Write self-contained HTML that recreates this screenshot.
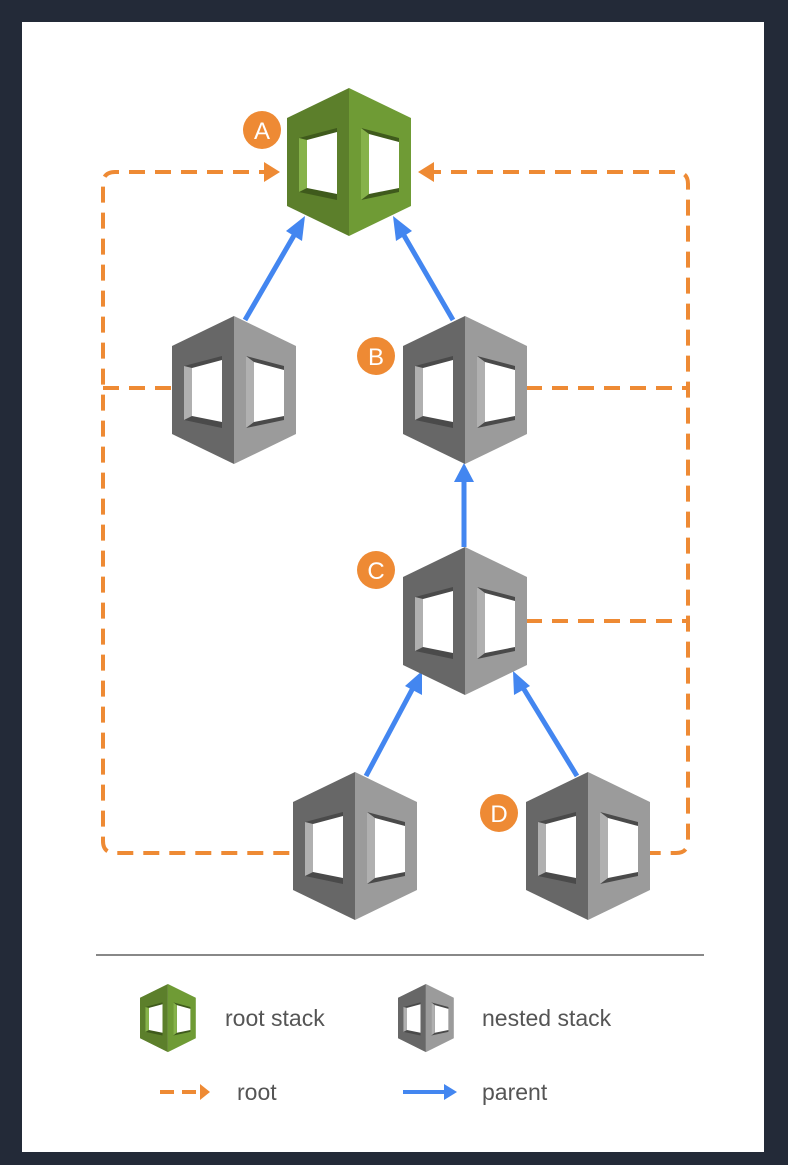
<!DOCTYPE html>
<html><head><meta charset="utf-8"><style>
html,body{margin:0;padding:0;background:#232a38;}
svg{display:block}
text{font-family:"Liberation Sans",sans-serif;}
</style></head><body>
<svg width="788" height="1165" viewBox="0 0 788 1165" xmlns="http://www.w3.org/2000/svg">
<defs>
<g id="gcube">
  <polygon points="0,30 62,0 62,148 0,118" fill="#5c7f2b"/>
  <polygon points="62,0 124,30 124,118 62,148" fill="#6f9b35"/>
  <polygon points="12,50 50,40 50,112 12,104" fill="#3f5a1c"/>
  <polygon points="20,52 50,44 50,106 20,100" fill="#fff"/>
  <polygon points="74,40 112,50 112,104 74,112" fill="#3f5a1c"/>
  <polygon points="82,46 112,54 112,100 82,106" fill="#fff"/>
  <polygon points="12,50 20,52 20,100 12,104" fill="#86b24a"/>
  <polygon points="74,40 82,46 82,106 74,112" fill="#86b24a"/>
</g>
<g id="ncube">
  <polygon points="0,30 62,0 62,148 0,118" fill="#676767"/>
  <polygon points="62,0 124,30 124,118 62,148" fill="#9b9b9b"/>
  <polygon points="12,50 50,40 50,112 12,104" fill="#4a4a4a"/>
  <polygon points="20,52 50,44 50,106 20,100" fill="#fff"/>
  <polygon points="74,40 112,50 112,104 74,112" fill="#4a4a4a"/>
  <polygon points="82,46 112,54 112,100 82,106" fill="#fff"/>
  <polygon points="12,50 20,52 20,100 12,104" fill="#b0b0b0"/>
  <polygon points="74,40 82,46 82,106 74,112" fill="#b0b0b0"/>
</g>
<marker id="ob" markerWidth="10" markerHeight="10" refX="6" refY="5" orient="auto" markerUnits="userSpaceOnUse">
  <path d="M0,0 L10,5 L0,10 Z" fill="#f08a2c"/>
</marker>
</defs>
<rect x="22" y="22" width="742" height="1130" fill="#fff"/>

<!-- orange dashed -->
<g stroke="#ee8a34" stroke-width="4" fill="none" stroke-dasharray="16,10">
  <path d="M275,172 L115,172 Q103,172 103,184 L103,841 Q103,853 115,853 L293,853"/>
  <path d="M425,172 L676,172 Q688,172 688,184 L688,841 Q688,853 676,853 L650,853"/>
  <path d="M103,388 L172,388"/>
  <path d="M526,388 L688,388"/>
  <path d="M526,621 L688,621"/>
</g>
<polygon points="264,162 280,172 264,182" fill="#ee8a34"/>
<polygon points="434,162 418,172 434,182" fill="#ee8a34"/>

<!-- blue arrows -->
<g stroke="#4386f0" stroke-width="5" fill="none">
  <line x1="245" y1="320" x2="296" y2="232"/>
  <line x1="453" y1="320" x2="402" y2="232"/>
  <line x1="464" y1="547" x2="464" y2="478"/>
  <line x1="366" y1="776" x2="414" y2="686"/>
  <line x1="577" y1="776" x2="522" y2="686"/>
</g>
<g fill="#4386f0">
  <polygon points="305,216 302,241 286,231"/>
  <polygon points="393,216 412,231 396,241"/>
  <polygon points="464,463 474,482 454,482"/>
  <polygon points="422,671 422,695 405,686"/>
  <polygon points="513,671 530,686 514,695"/>
</g>

<!-- cubes -->
<use href="#gcube" x="287" y="88"/>
<use href="#ncube" x="172" y="316"/>
<use href="#ncube" x="403" y="316"/>
<use href="#ncube" x="403" y="547"/>
<use href="#ncube" x="293" y="772"/>
<use href="#ncube" x="526" y="772"/>

<!-- labels -->
<g fill="#ee8a34">
  <circle cx="262" cy="130" r="19"/>
  <circle cx="376" cy="356" r="19"/>
  <circle cx="376" cy="570" r="19"/>
  <circle cx="499" cy="813" r="19"/>
</g>
<g fill="#fff" font-size="24" text-anchor="middle">
  <text x="262" y="139">A</text>
  <text x="376" y="365">B</text>
  <text x="376" y="579">C</text>
  <text x="499" y="822">D</text>
</g>

<line x1="96" y1="955" x2="704" y2="955" stroke="#888" stroke-width="2"/>

<!-- legend -->
<g transform="translate(140,984) scale(0.45,0.46)"><use href="#gcube"/></g>
<g transform="translate(398,984) scale(0.45,0.46)"><use href="#ncube"/></g>
<g fill="#555" font-size="23">
  <text x="225" y="1026">root stack</text>
  <text x="482" y="1026">nested stack</text>
  <text x="237" y="1100">root</text>
  <text x="482" y="1100">parent</text>
</g>
<g stroke="#ee8a34" stroke-width="4"><line x1="160" y1="1092" x2="174" y2="1092"/><line x1="182" y1="1092" x2="196" y2="1092"/></g>
<polygon points="200,1084 210,1092 200,1100" fill="#ee8a34"/>
<line x1="403" y1="1092" x2="446" y2="1092" stroke="#4386f0" stroke-width="4"/>
<polygon points="444,1084 457,1092 444,1100" fill="#4386f0"/>
</svg>
</body></html>
